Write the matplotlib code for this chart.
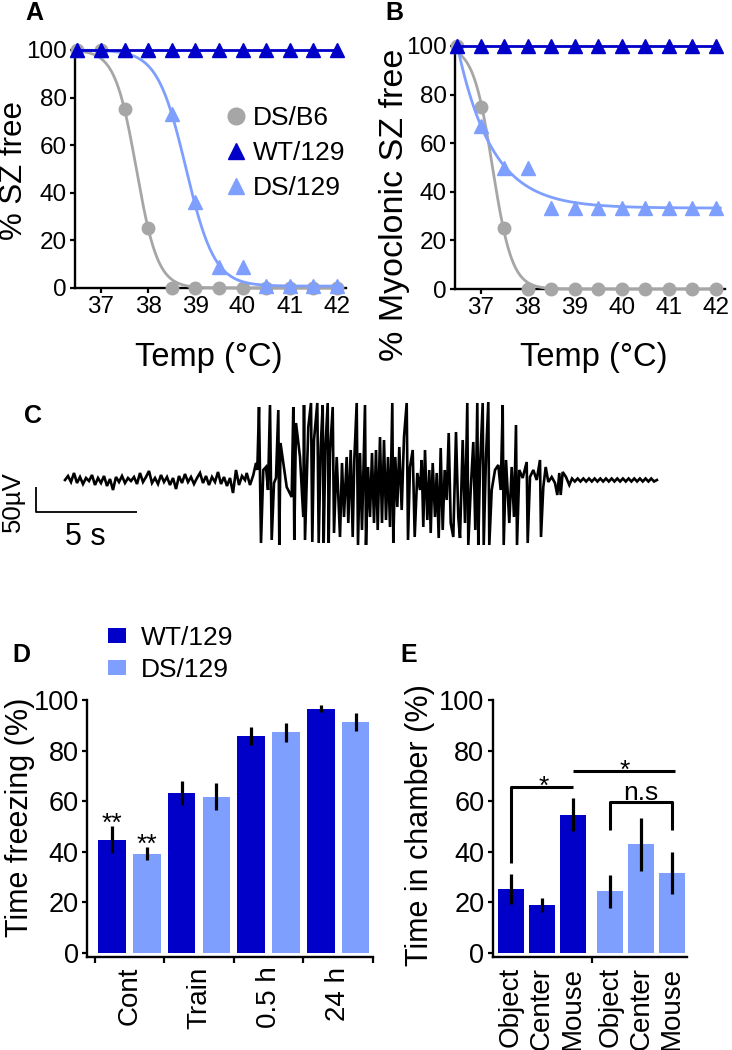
import matplotlib
matplotlib.use('Agg')
import matplotlib.pyplot as plt
import numpy as np
from matplotlib.lines import Line2D
from matplotlib.patches import Patch

plt.rcParams['font.family'] = ['Liberation Sans', 'DejaVu Sans']

# ---------------- data ----------------
temps = [36.5, 37, 37.5, 38, 38.5, 39, 39.5, 40, 40.5, 41, 41.5, 42]
a_ds_b6 = [100, 100, 75, 25, 0, 0, 0, 0, 0, 0, 0, 0]
a_wt_129 = [100] * 12
a_ds_129 = [100, 100, 100, 100, 73, 36, 9, 9, 1, 1, 1, 1]
b_ds_b6 = [100, 75, 25, 0, 0, 0, 0, 0, 0, 0, 0, 0]
b_wt_129 = [100] * 12
b_ds_129 = [100, 67, 50, 50, 33.3, 33.3, 33.3, 33.3, 33.3, 33.3, 33.3, 33.3]

# fitted-curve parameters (top, bottom, midpoint, slope)
fit_a_ds_b6 = [100, 0, 37.75, 4.39]
fit_a_ds_129 = [100, 0.8, 38.8, 3.3]
fit_b_ds_b6 = [100, 0, 37.25, 4.8]
# exponential decay fit (start, top, plateau, tau)
fit_b_ds_129 = [36.5, 100, 33.3, 0.74]

# EEG trace (C): sample rate, baseline samples, seizure vertices, post-ictal samples
fs = 20.2
baseline_step = 3
baseline_uv = [0, 8, -4, 14, -6, 6, -8, 4, -2, 10, -10, 4, -6, 8, -12, 2, -20, 6, -4, 8,
               -6, 4, -2, 6, -8, 14, -4, 6, 18, -6, 4, -8, 10, -4, 6, -10, 4, -18, 8, -6,
               12, -4, 6, -8, 4, 14, -6, 8, -10, 6, -4, 16, -8, 6, -12, 4, -26, 20, -10, 8, 0]
seiz_idx = [181.7, 185, 188.3, 191, 192.3, 194, 196, 198.3, 201, 203, 205, 206.7, 209, 211,
            213.3, 214.3, 215.5, 218.3, 221.7, 226.7, 228.3, 229.3, 231, 235, 238.3, 239, 240,
            243.3, 246, 247.3, 249, 252.3, 253.7, 255.7, 257.7, 258.7, 260.3, 262.7, 263.7, 265,
            267.7, 269, 271.7, 275, 277, 279, 281.7, 283.3, 285.7, 287.7, 289.3, 291.7, 293, 295,
            297, 300, 301, 303, 305, 307, 309, 311, 312.7, 315, 317, 319, 321, 323, 325, 327.3,
            328.3, 330.3, 332.3, 334.3, 336.7, 339, 341.7, 343, 345, 347.7, 349.7, 352.3, 355,
            356.7, 358.3, 360, 362.3, 364.3, 365.7, 367.7, 370, 371.7, 373.7, 375.7, 377.7, 379.7,
            381.7, 383.7, 385.7, 388.3, 391, 393.3, 395, 397.7, 400, 402.3, 403.3, 405.7, 408.3,
            410.3, 412.3, 413.3, 415, 417.7, 418.7, 421, 423.3, 424.3, 426.7, 430, 433.3, 435.7,
            437.7, 438.7, 441, 444.3, 446.7, 449, 451, 452, 454.3, 457.7, 461.7, 462.7, 465, 468.3,
            471.7, 475, 476, 478.3, 480.7, 483.3, 486.7, 490, 492.3, 494.3, 495.7, 497.7, 501, 504.3]
seiz_uv = [14, -10, 10, 34, 20, 146, -126, 20, 26, -20, 150, -120, -6, 4,
           140, -130, 74, 34, -14, -34, 146, -120, 114, 46, -74, 150, -120,
           106, 154, -124, 80, 154, -126, 66, 150, -126, 60, 154, -126, 54,
           146, -106, 46, -114, 34, -74, 46, -86, 60, -114, 40, 154, -130, 54,
           -100, 150, -130, 26, -74, 54, -86, 60, -100, 86, -86, 80, -80, 46, -94, 154,
           -126, 46, -54, 66, -60, 86, 154, -120, 26, 60, -114, 14, -20,
           40, -94, 60, -80, 20, -106, 34, -74, 14, -116, 64, -100, 20,
           -40, 94, -86, -114, 96, -74, -116, 80, -86, 154, -130, -20, 76,
           -100, 154, -130, 26, 154, -130, 46, 156, -130, -20, 20, 30, -20,
           150, -130, 40, -86, 26, -74, 110, -130, 20, 4, 36, -126, 6, 20,
           0, 40, -114, -14, 26, -4, 6, -6, -30, 14, -30, 16, 6, -10]
post_start = 507
post_step = 2.83
post_uv = [3, -3, 3, -3, 3, -3, 3, -3, 3, -3, 3, -3, 3, -3, 3, -3,
           3, -3, 3, -3, 3, -3, 3, -3, 3, -3, 3, -3, 3, -3, 0]

# Fear conditioning (D)
d_groups = ['Cont', 'Train', '0.5 h', '24 h']
d_wt = [44.7, 63.2, 85.7, 96.6]
d_wt_err = [5.3, 4.6, 3.6, 1.4]
d_ds = [39.2, 61.7, 87.2, 91.3]
d_ds_err = [2.6, 5.3, 3.9, 3.4]

# Social chamber (E)
e_cats = ['Object', 'Center', 'Mouse']
e_wt = [25.3, 19.1, 54.6]
e_wt_err = [5.8, 2.8, 6.5]
e_ds = [24.3, 42.9, 31.7]
e_ds_err = [6.6, 10.6, 8.2]

DARK = '#0000C8'
LIGHT = '#7F9FFF'
GRAY = '#A6A6A6'

W, H = 732, 1050
fig = plt.figure(figsize=(W / 100, H / 100), dpi=100)


def px_axes(left, top, right, bottom):
    return fig.add_axes([left / W, 1 - bottom / H, (right - left) / W, (bottom - top) / H])


def ftext(x, y, s, **kw):
    fig.text(x / W, 1 - y / H, s, **kw)


def style(ax, lsize):
    for s in ['top', 'right']:
        ax.spines[s].set_visible(False)
    for s in ['left', 'bottom']:
        ax.spines[s].set_linewidth(1.7)
    ax.tick_params(direction='out', length=3.5, width=1.6, labelsize=lsize, pad=2.5)


def logistic(x, p):
    top, bot, mid, k = p
    return bot + (top - bot) / (1 + np.exp(k * (x - mid)))


xs = np.linspace(36.45, 42.1, 300)

# ---------------- A ----------------
axA = px_axes(75, 50, 346.4, 288)
style(axA, 17.5)
axA.plot(xs, logistic(xs, fit_a_ds_b6), color=GRAY, lw=2.0, clip_on=False, zorder=3)
axA.plot(temps, a_ds_b6, 'o', color=GRAY, ms=9, clip_on=False, zorder=4)
axA.plot(xs, logistic(xs, fit_a_ds_129), color=LIGHT, lw=2.0, clip_on=False, zorder=5)
axA.plot(temps, a_ds_129, '^', color=LIGHT, ms=10, clip_on=False, zorder=6)
axA.plot(temps, a_wt_129, '^-', color=DARK, ms=10, lw=2.0, clip_on=False, zorder=7)
axA.set_xlim(36.45, 42.2)
axA.set_ylim(0, 100)
axA.set_xticks(range(37, 43))
axA.set_yticks(range(0, 101, 20))
hA = [Line2D([], [], marker='o', color=GRAY, ls='none', ms=12),
      Line2D([], [], marker='^', color=DARK, ls='none', ms=12),
      Line2D([], [], marker='^', color=LIGHT, ls='none', ms=12)]
fig.legend(hA, ['DS/B6', 'WT/129', 'DS/129'], loc='upper left',
           bbox_to_anchor=(223 / W, 1 - 106 / H), frameon=False, borderpad=0,
           handlelength=1.0, handletextpad=0.15, labelspacing=0.42, fontsize=19,
           borderaxespad=0)
ftext(14, 170, '% SZ free', rotation=90, ha='center', va='center', fontsize=22.5)
ftext(209, 357, 'Temp (°C)', ha='center', va='center', fontsize=23.5)

# ---------------- B ----------------
axB = px_axes(455, 46, 725, 289)
style(axB, 17.5)
axB.plot(xs, logistic(xs, fit_b_ds_b6), color=GRAY, lw=2.0, clip_on=False, zorder=3)
axB.plot(temps, b_ds_b6, 'o', color=GRAY, ms=9, clip_on=False, zorder=4)
x0, top, plat, tau = fit_b_ds_129
xb = np.linspace(x0, 42.1, 300)
axB.plot(xb, plat + (top - plat) * np.exp(-(xb - x0) / tau), color=LIGHT, lw=2.0,
         clip_on=False, zorder=5)
axB.plot(temps, b_ds_129, '^', color=LIGHT, ms=10, clip_on=False, zorder=6)
axB.plot(temps, b_wt_129, '^-', color=DARK, ms=10, lw=2.0, clip_on=False, zorder=7)
axB.set_xlim(36.45, 42.2)
axB.set_ylim(0, 100)
axB.set_xticks(range(37, 43))
axB.set_yticks(range(0, 101, 20))
ftext(394, 205, '% Myoclonic SZ free', rotation=90, ha='center', va='center', fontsize=24.5)
ftext(594, 357, 'Temp (°C)', ha='center', va='center', fontsize=23.5)

# ---------------- C ----------------
axC = px_axes(30, 395, 665, 555)
axC.axis('off')
b_idx = np.arange(len(baseline_uv)) * baseline_step
p_idx = post_start + np.arange(len(post_uv)) * post_step
t_all = np.concatenate([b_idx, np.array(seiz_idx), p_idx]) / fs
v_all = np.concatenate([baseline_uv, seiz_uv, post_uv])
axC.plot(t_all, v_all, color='black', lw=1.9, solid_joinstyle='miter')
axC.set_xlim((30 - 65) / fs, (665 - 65) / fs)
axC.set_ylim(-150, 170)
sb_t0 = -1.44
axC.plot([sb_t0, sb_t0, sb_t0 + 5], [-14, -64, -64], color='black', lw=1.3,
         solid_capstyle='butt')
ftext(13, 502, '50µV', rotation=90, ha='center', va='center', fontsize=18.5)
ftext(85, 537, '5 s', ha='center', va='center', fontsize=22)

# ---------------- D ----------------
axD = px_axes(87, 700, 373, 957)
style(axD, 19.5)
xd = np.arange(len(d_groups)) * 2
bw = 0.79
axD.bar(xd, d_wt, width=bw, color=DARK, zorder=2)
axD.bar(xd + 1, d_ds, width=bw, color=LIGHT, zorder=2)
axD.errorbar(xd, d_wt, yerr=d_wt_err, fmt='none', ecolor='black', elinewidth=2.3,
             capsize=0, zorder=3)
axD.errorbar(xd + 1, d_ds, yerr=d_ds_err, fmt='none', ecolor='black', elinewidth=2.3,
             capsize=0, zorder=3)
axD.set_xlim(-0.72, 7.5)
axD.set_ylim(-1.6, 100)
axD.set_yticks(range(0, 101, 20))
axD.set_xticks(xd + 0.5)
axD.set_xticklabels(d_groups, rotation=90, fontsize=20)
axD.tick_params(axis='x', which='major', length=0, pad=7)
axD.set_xticks(np.arange(-0.5, 7.6, 2), minor=True)
axD.tick_params(axis='x', which='minor', length=4, width=1.6, direction='out')
axD.text(xd[0], 48.1, '**', ha='center', va='baseline', fontsize=19)
axD.text(xd[0] + 1, 40.1, '**', ha='center', va='baseline', fontsize=19)
hD = [Patch(facecolor=DARK), Patch(facecolor=LIGHT)]
fig.legend(hD, ['WT/129', 'DS/129'], loc='upper left', bbox_to_anchor=(108 / W, 1 - 626 / H),
           frameon=False, borderpad=0, borderaxespad=0, handlelength=0.7, handleheight=0.5,
           handletextpad=0.55, labelspacing=0.3, fontsize=19)
ftext(20, 817, 'Time freezing (%)', rotation=90, ha='center', va='center', fontsize=22)

# ---------------- E ----------------
axE = px_axes(492.7, 700, 687, 957)
style(axE, 19.5)
xe_wt = np.arange(3)
xe_ds = np.arange(3) + 3.2
ebw = 0.82
axE.bar(xe_wt, e_wt, width=ebw, color=DARK, zorder=2)
axE.bar(xe_ds, e_ds, width=ebw, color=LIGHT, zorder=2)
axE.errorbar(xe_wt, e_wt, yerr=e_wt_err, fmt='none', ecolor='black', elinewidth=2.3,
             capsize=0, zorder=3)
axE.errorbar(xe_ds, e_ds, yerr=e_ds_err, fmt='none', ecolor='black', elinewidth=2.3,
             capsize=0, zorder=3)
axE.set_xlim(-0.59, 5.68)
axE.set_ylim(-1.6, 100)
axE.set_yticks(range(0, 101, 20))
axE.set_xticks(list(xe_wt) + list(xe_ds))
axE.set_xticklabels(e_cats + e_cats, rotation=90, fontsize=20)
axE.tick_params(axis='x', which='major', length=0, pad=7)
axE.set_xticks([2.6], minor=True)
axE.tick_params(axis='x', which='minor', length=4, width=1.6, direction='out')
lk = dict(color='black', lw=2.2, solid_capstyle='butt', clip_on=False)
axE.plot([xe_wt[0], xe_wt[0], xe_wt[2]], [35.5, 65.8, 65.8], **lk)
axE.text(1.06, 62.7, '*', ha='center', va='baseline', fontsize=19)
axE.plot([xe_wt[2], 5.29], [72, 72], **lk)
axE.text(3.68, 69.3, '*', ha='center', va='baseline', fontsize=19)
axE.plot([xe_ds[0], xe_ds[0], xe_ds[2], xe_ds[2]], [48.7, 59.5, 59.5, 48.7], **lk)
axE.text(xe_ds[1], 60.5, 'n.s', ha='center', va='baseline', fontsize=19)
ftext(420, 825, 'Time in chamber (%)', rotation=90, ha='center', va='center', fontsize=22)

# panel letters
for lbl, (px, py) in {'A': (25, 13.5), 'B': (385, 13.5), 'C': (24, 416),
                      'D': (12, 655.5), 'E': (400, 655.5)}.items():
    ftext(px, py, lbl, ha='left', va='center', fontsize=18, fontweight='bold')

fig.savefig('out.png', dpi=100)
